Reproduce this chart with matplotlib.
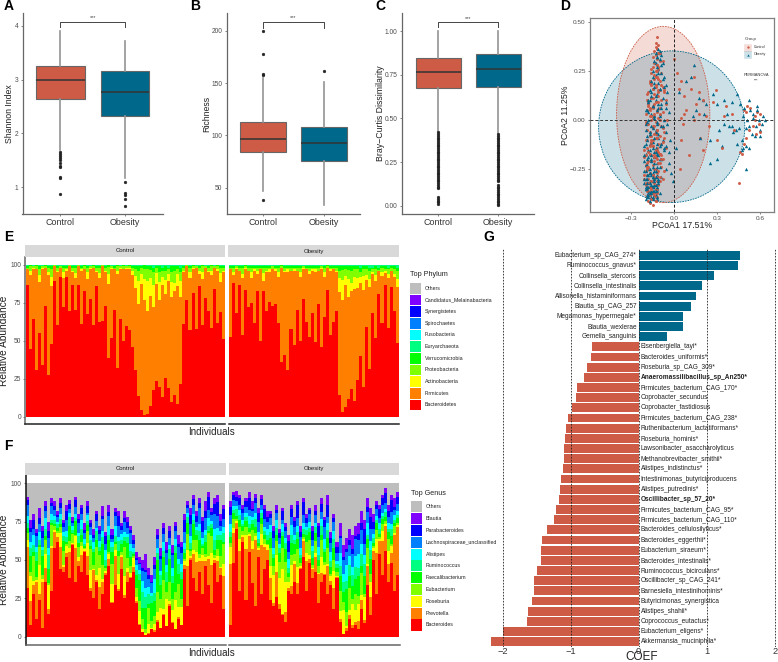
import numpy as np
import matplotlib
matplotlib.use("Agg")
import matplotlib.pyplot as plt
from matplotlib.patches import Ellipse, Rectangle

plt.rcParams['font.family'] = ['Liberation Sans', 'DejaVu Sans']
W, H = 778, 662
RED, BLUE = '#CD5B45', '#00688B'

# ---------- box panels ----------
groups = ['Control', 'Obesity']
shannon_stats = [
    dict(q1=2.63, med=2.99, q3=3.25, whislo=1.70, whishi=3.90,
         fliers=[1.66, 1.62, 1.58, 1.55, 1.50, 1.45, 1.40, 1.37, 1.20, 1.17, 0.87]),
    dict(q1=2.33, med=2.77, q3=3.15, whislo=1.17, whishi=3.72,
         fliers=[1.09, 0.90, 0.85, 0.78, 0.66])]
richness_stats = [
    dict(q1=84, med=97, q3=113, whislo=47, whishi=155, fliers=[200, 178, 158.5, 157.5, 38]),
    dict(q1=76, med=93, q3=108, whislo=33, whishi=151, fliers=[162])]
bray_stats = [
    dict(q1=0.677, med=0.768, q3=0.848, whislo=0.43, whishi=1.0,
         fliers=[.42, .41, .40, .39, .38, .37, .36, .35, .34, .33, .32, .31, .30, .29, .28, .27, .26, .25,
                 .24, .23, .22, .21, .20, .19, .18, .17, .16, .15, .14, .13, .12, .11, .10, .05, .04, .03, .02, .01]),
    dict(q1=0.682, med=0.783, q3=0.867, whislo=0.415, whishi=1.0,
         fliers=[.41, .40, .39, .38, .37, .36, .35, .34, .33, .32, .31, .30, .29, .28, .27, .26, .25, .24, .23,
                 .22, .21, .20, .19, .18, .17, .16, .15, .14, .12, .11, .10, .09, .08, .07, .06, .05, .04, .03, .02, .01, .005])]

# ---------- PCoA points ----------
ctrl_main_x = [-.12,-.13,-.11,-.12,-.14,-.11,-.13,-.12,-.1,-.14,-.12,-.15,-.11,-.13,-.09,-.16,-.12,-.14,-.1,-.17,-.13,-.08,-.15,-.11,-.18,-.07,-.14,-.12,-.16,-.09,-.19,-.13,-.06,-.15,-.1,-.17,-.12,-.08,-.2,-.14,-.11,-.16,-.05,-.13,-.18,-.09,-.15,-.12,-.19,-.07,-.14,-.17,-.1,-.13,-.2,-.08,-.16,-.11,-.15,-.19,-.06,-.13,-.18,-.1,-.17,-.14,-.21,-.08,-.12,-.16,-.19,-.11,-.15,-.09,-.18,-.13,-.2,-.07,-.17,-.12,-.15,-.19,-.1,-.14,-.21,-.08,-.16,-.12,-.18,-.14,-.2,-.11,-.17,-.15,-.19,-.13,-.16,-.18,-.12,-.15,-.17,-.14,-.19,-.13,-.16,-.15,-.18,-.13,-.17,-.15,-.12,-.14,-.11,-.16,-.13,-.18,-.1,-.15,-.13,-.17,-.09,-.14,-.19,-.12,-.16,-.1,-.2,-.15]
ctrl_main_y = [.42,.39,.38,.36,.35,.34,.33,.31,.3,.29,.28,.27,.27,.25,.24,.24,.22,.21,.2,.19,.18,.17,.16,.15,.14,.14,.13,.12,.11,.1,.1,.09,.08,.07,.06,.05,.05,.04,.03,.02,.01,.0,.0,-.01,-.02,-.03,-.04,-.05,-.05,-.06,-.07,-.08,-.08,-.09,-.1,-.11,-.11,-.12,-.13,-.14,-.14,-.15,-.16,-.17,-.17,-.18,-.19,-.2,-.2,-.21,-.22,-.22,-.23,-.24,-.24,-.25,-.26,-.26,-.27,-.27,-.28,-.28,-.29,-.29,-.3,-.3,-.31,-.31,-.32,-.32,-.33,-.33,-.34,-.34,-.35,-.35,-.36,-.36,-.37,-.37,-.38,-.38,-.39,-.39,-.4,-.4,-.41,-.41,-.42,-.43,-.35,-.3,.26,.18,.12,.08,.03,-.03,-.07,-.13,-.18,-.21,-.25,-.15,-.1,.15,-.02,.06]
ctrl_extra_x = [-.13,-.15,-.1,-.12,-.16,-.08,-.14,-.11,-.17,-.09,-.13,-.19,-.07,-.15,-.11,-.18,-.06,-.12,-.16,-.1,-.2,-.14,-.08,-.17,-.12,-.19,-.09,-.15,-.21,-.11,-.16,-.13,-.18,-.07,-.2,-.14,-.1,-.17,-.12,-.19,-.15,-.21,-.09,-.13,-.18,-.16,-.11,-.2,-.14,-.17,-.12,-.19,-.15,-.1,-.18,-.13,-.16,-.2,-.12,-.17,-.14,-.19,-.11,-.15,-.18,-.13,-.16,-.12,-.17,-.14,-.11,-.13,-.15,-.12,-.14,-.1,-.16,-.13,-.11,-.15]
ctrl_extra_y = [.37,.32,.34,.28,.26,.3,.23,.21,.2,.18,.17,.13,.15,.11,.09,.07,.1,.04,.02,.0,-.01,-.03,-.04,-.06,-.09,-.1,-.12,-.13,-.15,-.16,-.18,-.19,-.21,-.09,-.23,-.25,-.17,-.27,-.29,-.24,-.31,-.28,-.2,-.33,-.3,-.35,-.26,-.32,-.37,-.34,-.39,-.36,-.4,-.31,-.38,-.41,-.12,-.18,-.05,.02,.08,.05,.12,.16,.09,.22,.19,.25,.06,.03,-.02,-.06,-.1,-.14,-.19,-.22,-.08,-.16,.14,.01]
ctrl_right_x = [.0,.02,.03,.05,.05,.07,.08,.1,.12,.14,.15,.17,.2,.22,.24,.27,.29,.3,.33,.35,.36,.4,.42,.45,.47,.49,.5,.51,.52,.53,.55,.56,.56,.57,.58,.59,.6,.6,.46,.49,.5,.05,.06,.14,.17,.18,.2,.04,.07]
ctrl_right_y = [.31,.24,.16,.2,-.1,.12,.05,-.18,.16,.0,.08,.03,-.15,.02,-.03,.09,.15,-.1,-.14,.02,.07,.03,-.05,-.32,-.17,-.12,.04,.07,-.05,.06,-.03,.02,.0,-.07,.04,-.02,.03,-.06,-.16,.05,-.09,.01,-.02,.22,.14,-.09,.1,-.25,.03]
obes_main_x = [-.11,-.1,-.13,-.09,-.12,-.1,-.14,-.08,-.12,-.11,-.15,-.09,-.13,-.07,-.16,-.11,-.06,-.14,-.1,-.17,-.05,-.12,-.16,-.08,-.13,-.18,-.06,-.11,-.15,-.09,-.19,-.12,-.04,-.16,-.1,-.14,-.18,-.07,-.12,-.2,-.09,-.15,-.13,-.17,-.06,-.11,-.19,-.14,-.08,-.16,-.12,-.2,-.1,-.15,-.18,-.07,-.13,-.17,-.11,-.21,-.14,-.09,-.19,-.16,-.12,-.04,-.2,-.15,-.1,-.18,-.06,-.13,-.21,-.17,-.02,-.12,-.19,-.15,-.09,-.2,-.14,-.17,-.01,-.11,-.21,-.16,-.13,-.19,-.15,-.2,-.12,-.18,-.14,-.17,-.16,-.19,-.13,-.18,-.15,-.2,-.12,-.17,-.14,-.19,-.11,-.16,-.13,-.18,-.15,-.12,-.1,-.17,-.14,-.16,-.12,.01,-.03,-.06,-.18,-.2]
obes_main_y = [.36,.35,.34,.33,.32,.31,.3,.29,.27,.26,.25,.24,.23,.22,.2,.19,.18,.17,.16,.15,.14,.13,.12,.11,.1,.09,.09,.08,.07,.06,.05,.05,.04,.03,.02,.01,.0,.0,-.01,-.02,-.03,-.04,-.05,-.06,-.06,-.07,-.08,-.09,-.1,-.11,-.12,-.12,-.13,-.14,-.15,-.15,-.16,-.17,-.18,-.18,-.19,-.2,-.2,-.21,-.22,-.22,-.23,-.24,-.24,-.25,-.25,-.26,-.26,-.27,-.27,-.28,-.28,-.29,-.29,-.3,-.3,-.31,-.31,-.32,-.32,-.33,-.33,-.34,-.34,-.35,-.35,-.36,-.36,-.37,-.37,-.38,-.38,-.39,-.39,-.4,-.4,-.41,-.33,-.35,-.31,-.36,-.29,-.38,-.34,-.39,-.37,-.12,-.16,-.2,-.07,-.14,-.1,-.13,.1,.05]
obes_extra_x = [-.1,-.12,-.09,-.13,-.11,-.15,-.08,-.14,-.1,-.16,-.07,-.13,-.17,-.09,-.15,-.11,-.18,-.06,-.14,-.1,-.19,-.12,-.16,-.08,-.2,-.13,-.05,-.17,-.11,-.19,-.15,-.09,-.21,-.13,-.17,-.07,-.2,-.12,-.16,-.18,-.1,-.21,-.14,-.19,-.04,-.17,-.12,-.2,-.15,-.18,-.13,-.21,-.16,-.19,-.14,-.11,-.18,-.2,-.15,-.17,-.13,-.19,-.16,-.12,-.18,-.14,-.2,-.15,-.17,-.13,-.16,-.19,-.14,-.17,-.12,-.18,-.15,-.13,-.16,-.14]
obes_extra_y = [.34,.32,.28,.29,.24,.22,.21,.19,.16,.14,.17,.12,.1,.08,.07,.06,.04,.06,.02,.03,-.01,-.02,-.03,-.03,-.05,-.06,-.02,-.07,-.09,-.1,-.11,-.12,-.13,-.14,-.15,-.14,-.17,-.17,-.18,-.19,-.2,-.21,-.22,-.23,-.16,-.25,-.24,-.26,-.27,-.28,-.29,-.3,-.31,-.32,-.33,-.3,-.34,-.35,-.36,-.37,-.38,-.39,-.33,-.36,-.37,-.31,-.34,-.29,-.32,-.35,-.39,-.3,-.38,-.27,-.34,-.24,-.4,-.36,-.28,-.26]
obes_right_x = [.03,.08,.12,.14,.13,.15,.17,.2,.22,.25,.27,.3,.31,.33,.35,.37,.38,.4,.4,.41,.43,.44,.45,.46,.47,.48,.48,.49,.5,.5,.51,.52,.52,.53,.54,.55,.56,.57,.58,.59,.6,.61,.62,.63,.6,.58,.5,.47,.44,.52,.55,.35,.3,.18,.21,.25]
obes_right_y = [.14,.2,.22,.28,.02,.05,.11,.1,.08,-.1,.13,.08,-.05,-.13,.1,.03,-.03,-.03,.09,-.06,-.05,.13,-.04,.08,-.1,-.14,.02,.06,-.04,-.13,.0,.1,-.03,.05,-.07,.01,-.08,-.03,.07,.0,-.05,-.02,.02,.0,-.08,.05,-.25,-.15,-.12,-.14,.03,-.02,-.2,-.09,.03,-.22]

# ---------- phylum composition (E) ----------
phylum_names = ['Bacteroidetes', 'Firmicutes', 'Actinobacteria', 'Proteobacteria', 'Verrucomicrobia',
                'Euryarchaeota', 'Fusobacteria', 'Spirochaetes', 'Synergistetes',
                'Candidatus_Melainabacteria', 'Others']
rainbow = ['#FF0000', '#FF8000', '#FFFF00', '#80FF00', '#00FF00', '#00FF80', '#00FFFF',
           '#0080FF', '#0000FF', '#8000FF', '#BEBEBE']
e_ctrl_bact = [84,45,62,30,58,33,70,28,52,85,60,88,74,90,66,86,72,82,60,80,70,75,58,85,64,60,72,42,50,68,32,62,48,58,55,46,
               30,14,4,1,2,6,18,22,20,12,25,18,10,14,8,22, 60,72,58,78,55,85,62,74,68,58,80,60,72,50]
e_ctrl_firm = [10,49,32,64,36,61,24,66,42,9,34,6,20,4,28,8,22,12,34,14,24,19,36,9,30,34,22,52,44,26,62,32,46,36,39,48,
               52,62,70,74,68,64,56,60,58,70,54,66,72,68,76,58, 33,21,35,15,38,8,31,19,25,35,13,33,21,43]
e_ctrl_acti = [0,3,1,0,5,1,0,2,6,0,1,0,4,1,0,1,3,0,1,0,5,1,0,1,3,0,1,7,1,0,2,1,0,1,1,3,
               8,16,6,14,20,10,15,7,12,5,9,4,10,5,8,11, 1,0,4,1,0,2,5,0,1,3,0,1,6,1]
e_ctrl_prot = [1,3,1,2,4,1,1,3,6,1,2,1,3,1,1,2,4,1,1,2,3,1,1,2,4,1,2,5,1,1,3,1,2,1,1,2,
               4,7,3,6,8,5,9,3,7,4,6,3,7,8,3,6, 2,1,3,1,1,2,4,1,2,3,1,2,4,2]
e_ctrl_verr = [1,1,0,1,2,0,1,1,2,0,1,0,1,1,0,1,1,0,1,1,1,0,1,1,1,0,1,2,0,1,1,0,1,0,1,1,
               2,3,1,3,2,2,3,1,4,2,3,1,4,3,2,3, 1,0,1,1,0,1,1,0,1,1,0,1,1,1]
e_ctrl_eury = [1,0,1,0,1,1,0,1,1,0,1,1,1,1,0,1,1,0,1,0,1,1,0,1,1,0,1,0,1,1,0,1,0,1,0,1,
               1,1,1,0,1,1,2,1,1,2,1,2,1,1,1,2, 1,0,1,0,1,1,0,1,1,0,1,0,1,1]
e_obes_bact = [50,88,66,84,55,80,70,76,60,82,48,86,68, 74,70,72,62,34,40,30,56, 46,68,50,74,60,52,66,
               48,72,44,66,80,52,60,68, 14,3,6,12,18,10, 25,40,20,58,32, 66,52,75,60,82,58,80,68,50]
e_obes_firm = [43,5,28,9,38,13,23,17,33,11,45,7,25, 19,23,21,31,59,53,63,37, 47,25,43,19,33,41,27,
               45,21,49,27,14,41,33,25, 68,78,76,70,64,72, 62,48,66,30,56, 25,37,14,30,8,32,10,22,38]
e_obes_acti = [0,2,1,0,3,1,0,4,1,2,0,5,1, 2,0,1,3,0,1,2,0, 1,0,3,1,0,2,1, 2,0,1,3,0,1,0,1, 9,14,6,12,5,8, 7,4,9,3,5, 1,4,0,2,1,3,0,2,5]
e_obes_prot = [1,3,1,2,4,1,2,3,1,2,1,4,2, 1,2,1,3,1,2,1,2, 1,2,3,1,1,2,1, 1,2,1,3,1,1,1,2, 5,7,4,6,8,5, 6,3,5,4,6, 2,4,1,3,1,3,2,3,6]
e_obes_verr = [1,1,0,1,1,1,1,1,1,1,1,1,1, 1,0,1,1,1,1,1,1, 1,1,1,0,1,1,1, 1,1,0,1,1,1,1,1, 3,3,2,3,3,2, 2,3,2,2,2, 1,2,1,1,2,1,1,2,2]
e_obes_eury = [1,1,1,1,1,0,1,1,1,1,1,1,1, 1,1,1,1,0,1,1,1, 1,1,1,1,1,1,1, 1,1,1,1,0,1,1,1, 1,1,1,1,1,1, 1,2,1,1,2, 2,1,2,1,1,2,1,1,2]
e_ctrl = [e_ctrl_bact, e_ctrl_firm, e_ctrl_acti, e_ctrl_prot, e_ctrl_verr, e_ctrl_eury]
e_obes = [e_obes_bact, e_obes_firm, e_obes_acti, e_obes_prot, e_obes_verr, e_obes_eury]

# ---------- genus composition (F) ----------
genus_names = ['Bacteroides', 'Prevotella', 'Roseburia', 'Eubacterium', 'Faecalibacterium', 'Ruminococcus',
               'Alistipes', 'Lachnospiraceae_unclassified', 'Parabacteroides', 'Blautia', 'Others']
f_ctrl_bact = [32,8,28,12,24,6,36,15,30,58,62,44,42,52,38,60,36,46,42,55,40,30,25,36,18,28,40,46,22,34,30,44,25,36,38,42,
               22,8,3,1,2,5,3,10,6,14,7,20,9,5,12,8,44,20,50,38,30,42,28,46,34,22,48,36,40,18]
f_ctrl_prev = [24,12,4,22,3,30,6,2,28,8,2,14,3,2,12,1,22,3,9,1,14,2,20,1,16,6,1,3,1,14,1,9,2,6,1,4,
               2,1,0,0,1,0,1,1,0,1,0,2,1,0,1,0,2,24,1,12,18,5,22,2,10,26,1,9,4,16]
f_ctrl_rose = [4,12,2,1,14,2,6,10,1,1,2,9,1,3,2,1,8,2,5,1,9,12,1,3,14,2,1,2,12,3,8,1,10,3,2,7,
               3,12,2,1,6,1,3,6,14,3,16,2,9,18,6,12,2,9,1,2,6,1,4,2,1,8,1,2,1,6]
f_ctrl_eub = [4,2,12,2,9,3,6,1,14,2,1,4,8,1,3,10,1,6,2,1,9,14,3,16,10,7,2,1,14,3,9,2,15,6,4,2,
              8,10,5,2,12,6,4,14,6,18,4,15,8,5,14,6,1,10,3,5,8,2,5,1,9,12,1,3,6,10]
f_ctrl_faec = [3,8,2,10,1,12,2,6,1,1,1,2,6,1,7,1,9,2,4,1,4,2,9,4,3,11,1,5,8,1,3,6,3,10,5,1,
               12,20,6,9,3,16,8,22,10,14,6,18,12,24,6,14,3,6,1,8,3,6,1,5,1,5,2,4,9,1]
f_ctrl_rum = [3,4,3,5,2,4,3,6,2,2,2,3,3,2,4,3,2,4,3,2,3,4,2,5,3,4,3,2,4,3,5,3,2,4,3,2,
              4,6,8,5,7,6,4,5,7,4,6,8,5,4,6,5,2,4,3,2,3,4,2,3,2,3,4,2,3,4]
f_ctrl_ali = [4,3,5,3,4,2,5,3,4,2,1,3,2,3,2,4,3,2,5,3,4,3,5,2,4,3,5,4,3,5,2,4,3,2,4,3,
              5,3,6,4,5,3,7,4,3,5,4,3,6,4,3,5,3,2,4,3,2,3,4,2,3,2,4,3,2,3]
f_ctrl_lach = [6,5,3,7,4,6,3,4,5,3,2,4,3,5,2,3,4,6,3,4,2,5,3,4,5,6,3,4,2,5,6,3,5,4,6,3,
               4,6,5,7,6,8,5,6,8,5,7,6,9,5,7,8,5,3,6,4,3,7,4,5,3,4,6,5,3,4]
f_ctrl_para = [3,2,4,2,3,5,2,3,2,2,1,3,2,4,2,3,5,2,3,2,5,3,2,4,3,2,4,2,3,2,5,3,2,4,2,3,
               2,1,2,1,3,1,2,3,2,4,2,5,2,3,2,4,6,2,5,3,4,2,7,3,5,2,4,6,3,5]
f_ctrl_blau = [2,4,3,2,5,3,2,4,3,2,2,3,2,3,2,4,2,3,2,5,3,2,4,2,3,5,2,3,4,2,3,2,4,3,2,4,
               5,6,4,7,5,6,4,4,6,3,5,4,6,3,5,4,3,2,4,2,3,2,3,4,2,3,2,3,4,2]
f_ctrl_other = [9,24,20,30,16,28,12,25,10,12,18,10,24,14,11,22,9,20,14,26,12,24,30,18,28,15,32,14,30,16,18,26,18,22,28,34,
                45,48,50,46,55,60,48,30,42,26,38,28,40,25,34,38,20,12,16,8,18,10,22,12,6,16,10,8,20,14]
f_obes_bact = [8,48,70,30,62,24,55,35,20,52,28,44,50,24,20,26,18,14,10,30,28,36,28,44,52,30,48,38,
               42,22,36,40,28,34,18,38,10,2,4,12,6,8,5,18,9,34,14,50,28,54,40,56,36,48,30,40]
f_obes_prev = [32,20,4,28,3,36,8,24,34,4,30,14,6,14,2,18,4,1,8,2,4,14,6,1,10,22,3,6,
               10,18,5,1,14,2,10,1,1,0,1,2,1,1,3,4,1,8,6,5,26,8,22,14,10,4,34,28]
f_obes_rose = [9,3,1,8,2,10,1,6,2,1,7,2,3,8,18,12,20,30,24,4,10,2,8,1,1,6,3,1,
               3,1,9,5,1,3,8,1,3,12,1,3,8,5,6,2,8,1,5,2,9,1,6,1,8,3,1,1]
f_obes_eub = [2,6,1,9,3,6,1,8,2,1,6,3,1,12,6,10,12,14,16,3,5,6,10,2,1,8,12,2,
              8,4,10,2,8,1,5,3,8,4,5,12,2,6,3,9,1,7,3,1,6,1,5,2,7,1,4,1]
f_obes_faec = [3,4,2,5,3,4,2,4,3,2,4,3,2,6,5,4,7,8,10,3,6,8,5,3,2,5,6,4,
               5,4,3,6,5,4,6,3,6,5,9,7,5,6,7,3,6,4,5,2,4,2,3,2,4,3,2,3]
f_obes_rum = [3,2,4,3,2,3,2,3,4,2,3,2,3,4,3,5,4,3,5,3,4,3,4,2,3,4,3,5,
              4,3,5,2,4,3,4,3,4,5,3,6,4,5,3,5,4,2,3,3,2,3,2,3,2,3,2,2]
f_obes_ali = [4,3,2,4,3,3,4,2,3,4,2,3,4,5,4,6,3,5,4,6,5,4,3,5,4,2,5,3,
              3,5,4,6,3,5,4,3,5,4,6,5,3,4,5,4,3,5,3,2,3,4,2,2,3,2,3,2]
f_obes_lach = [5,4,3,3,5,4,3,4,5,6,3,5,4,4,6,5,4,3,6,5,4,6,4,7,5,3,6,4,
               5,6,4,7,3,5,4,6,6,7,5,6,5,7,5,6,4,5,4,3,4,3,5,3,4,5,3,4]
f_obes_para = [4,3,2,5,3,4,6,2,3,5,4,6,3,3,5,2,4,6,3,7,4,5,7,3,8,4,3,6,
               3,7,5,4,6,3,2,5,1,2,1,3,2,1,2,3,5,2,4,4,3,5,4,6,3,5,2,4]
f_obes_blau = [3,2,4,2,3,2,3,5,2,3,2,3,4,2,3,4,3,2,3,4,2,3,2,4,2,3,2,3,
               4,2,3,2,5,3,2,4,5,6,4,6,5,4,4,5,3,4,3,5,2,3,2,3,4,2,5,3]
f_obes_other = [12,6,5,8,14,10,6,12,7,16,8,14,18,18,28,14,30,16,26,34,14,22,12,28,10,20,16,28,
                14,26,10,22,8,32,20,38,26,40,36,30,34,28,26,18,24,10,16,20,12,14,8,3,14,8,10,6]
f_ctrl_mid = [f_ctrl_prev, f_ctrl_rose, f_ctrl_eub, f_ctrl_faec, f_ctrl_rum, f_ctrl_ali, f_ctrl_lach, f_ctrl_para, f_ctrl_blau]
f_obes_mid = [f_obes_prev, f_obes_rose, f_obes_eub, f_obes_faec, f_obes_rum, f_obes_ali, f_obes_lach, f_obes_para, f_obes_blau]

# ---------- coefficient bars (G) ----------
species = ['Eubacterium_sp_CAG_274*', 'Ruminococcus_gnavus*', 'Collinsella_stercoris', 'Collinsella_intestinalis',
           'Allisonella_histaminiformans', 'Blautia_sp_CAG_257', 'Megamonas_hypermegale*', 'Blautia_wexlerae',
           'Gemella_sanguinis', 'Eisenbergiella_tayi*', 'Bacteroides_uniformis*', 'Roseburia_sp_CAG_309*',
           'Anaeromassilibacillus_sp_An250*', 'Firmicutes_bacterium_CAG_170*', 'Coprobacter_secundus',
           'Coprobacter_fastidiosus', 'Firmicutes_bacterium_CAG_238*', 'Ruthenibacterium_lactatiformans*',
           'Roseburia_hominis*', 'Lawsonibacter_asaccharolyticus', 'Methanobrevibacter_smithii*',
           'Alistipes_indistinctus*', 'Intestinimonas_butyriciproducens', 'Alistipes_putredinis*',
           'Oscillibacter_sp_57_20*', 'Firmicutes_bacterium_CAG_95*', 'Firmicutes_bacterium_CAG_110*',
           'Bacteroides_cellulosilyticus*', 'Bacteroides_eggerthii*', 'Eubacterium_siraeum*',
           'Bacteroides_intestinalis*', 'Ruminococcus_bicirculans*', 'Oscillibacter_sp_CAG_241*',
           'Barnesiella_intestinihominis*', 'Butyricimonas_synergistica', 'Alistipes_shahii*',
           'Coprococcus_eutactus*', 'Eubacterium_eligens*', 'Akkermansia_muciniphila*']
coefs = [1.485, 1.456, 1.10, 0.926, 0.848, 0.765, 0.657, 0.647, 0.42,
         -0.69, -0.706, -0.755, -0.81, -0.907, -0.92, -0.98, -1.044, -1.064, -1.083, -1.093, -1.098, -1.108,
         -1.142, -1.157, -1.167, -1.216, -1.25, -1.348, -1.42, -1.43, -1.436, -1.49, -1.534, -1.54, -1.574,
         -1.627, -1.647, -1.995, -2.176]
bold_species = ['Anaeromassilibacillus_sp_An250*', 'Oscillibacter_sp_57_20*']

# ---------- figure ----------
fig = plt.figure(figsize=(W / 100, H / 100), dpi=100, facecolor='white')

def px_axes(l, t, r, b, **kw):
    return fig.add_axes([l / W, 1 - b / H, (r - l) / W, (b - t) / H], **kw)

overlay = fig.add_axes([0, 0, 1, 1], zorder=20)
overlay.set_xlim(0, W); overlay.set_ylim(H, 0); overlay.axis('off'); overlay.patch.set_alpha(0)
TC = '#4d4d4d'

def boxpanel(l, r, c1, unit, ylim, yticks, ylabels, stats, ylabel, br_y, br_drop, ylab_x):
    ax = px_axes(l, 13, r, 214)
    ax.set_xlim(1 - (c1 - l) / unit, 1 + (r - c1) / unit)
    ax.set_ylim(*ylim)
    for s, color, pos in zip(stats, [RED, BLUE], [1, 2]):
        ax.bxp([s], positions=[pos], widths=0.75, patch_artist=True, showcaps=False,
               boxprops=dict(facecolor=color, edgecolor='#666666', linewidth=0.8),
               medianprops=dict(color='#333333', linewidth=1.1),
               whiskerprops=dict(color='#949494', linewidth=1.2),
               flierprops=dict(marker='o', markersize=2.0, markerfacecolor='#222222',
                               markeredgecolor='#222222', markeredgewidth=0.3))
    ax.plot([1, 1, 2, 2], [br_y - br_drop, br_y, br_y, br_y - br_drop], color='#444444', lw=0.7)
    ax.text(1.5, br_y + br_drop * 0.75, '***', ha='center', va='center', fontsize=4, color='#444444')
    ax.set_xticks([1, 2]); ax.set_xticklabels(groups, fontsize=6.4, color='#333333')
    ax.set_yticks(yticks); ax.set_yticklabels(ylabels, fontsize=4.8, color=TC)
    ax.tick_params(axis='both', length=1.5, width=0.5, pad=1.5, color='#555555')
    for s in ('top', 'right'):
        ax.spines[s].set_visible(False)
    for s in ('left', 'bottom'):
        ax.spines[s].set_color('#666666'); ax.spines[s].set_linewidth(0.9)
    overlay.text(ylab_x, 113.5, ylabel, rotation=90, ha='center', va='center', fontsize=6.3, color='#222222')

boxpanel(22.5, 163, 60.5, 64.5, (0.504, 4.236), [1, 2, 3, 4], ['1', '2', '3', '4'], shannon_stats, 'Shannon Index', 4.07, 0.10, 10)
boxpanel(226.5, 360, 263, 61, (24.8, 217.2), [50, 100, 150, 200], ['50', '100', '150', '200'], richness_stats, 'Richness', 208.6, 5.5, 207)
boxpanel(401.5, 534, 438, 60, (-0.046, 1.103), [0, .25, .5, .75, 1], ['0.00', '0.25', '0.50', '0.75', '1.00'], bray_stats, 'Bray\u2212Curtis Dissimilarity', 1.051, 0.03, 381)

# PCoA
axd = px_axes(590, 18, 774, 212)
axd.set_xlim(-0.588, 0.696); axd.set_ylim(-0.467, 0.518)
axd.add_patch(Ellipse((-0.077, 0.028), 0.651, 0.895, facecolor=RED, alpha=0.22, lw=0))
axd.add_patch(Ellipse((-0.018, -0.034), 1.02, 0.77, facecolor=BLUE, alpha=0.2, lw=0))
axd.add_patch(Ellipse((-0.018, -0.034), 1.02, 0.77, fill=False, edgecolor=BLUE, ls=(0, (2, 1.2)), lw=0.6))
axd.add_patch(Ellipse((-0.077, 0.028), 0.651, 0.895, fill=False, edgecolor=RED, ls=(0, (2, 1.2)), lw=0.6))
axd.axhline(0, color='#333333', ls=(0, (3, 2)), lw=0.7, zorder=5)
axd.axvline(0, color='#222222', ls=(0, (3, 2)), lw=0.7, zorder=5)
def pts(*pairs):
    xs, ys = [], []
    for a, b in pairs:
        n = min(len(a), len(b))
        xs += a[:n]; ys += b[:n]
    return np.array(xs), np.array(ys)
cx, cy = pts((ctrl_main_x, ctrl_main_y), (ctrl_extra_x, ctrl_extra_y), (ctrl_right_x, ctrl_right_y))
ox, oy = pts((obes_main_x, obes_main_y), (obes_extra_x, obes_extra_y), (obes_right_x, obes_right_y))
for k in range(3):
    axd.scatter(cx[k::3], cy[k::3], s=4.5, marker='o', color=RED, lw=0, zorder=4)
    axd.scatter(ox[k::3], oy[k::3], s=6, marker='^', color=BLUE, lw=0, zorder=4)
axd.set_xticks([-.3, 0, .3, .6]); axd.set_xticklabels(['\u22120.3', '0.0', '0.3', '0.6'], fontsize=4.6, color=TC)
axd.set_yticks([-.25, 0, .25, .5]); axd.set_yticklabels(['\u22120.25', '0.00', '0.25', '0.50'], fontsize=4.6, color=TC)
axd.tick_params(length=1.5, width=0.5, pad=1.5, color='#555555')
for s in axd.spines.values():
    s.set_color('#808080'); s.set_linewidth(0.9)
overlay.text(681.7, 226, 'PCoA1 17.51%', ha='center', va='center', fontsize=6.3, color='#222222')
overlay.text(565.5, 115, 'PCoA2 11.25%', rotation=90, ha='center', va='center', fontsize=6.3, color='#222222')
overlay.text(744.5, 39, 'Group', fontsize=3.2, va='center', color='#333333')
for y, c, m, lab in [(47, RED, 'o', 'Control'), (54.5, BLUE, '^', 'Obesity')]:
    overlay.add_patch(Rectangle((744.5, y - 3.5), 7, 7, facecolor=c, alpha=0.2, edgecolor=c, lw=0.4, ls=(0, (2, 1))))
    overlay.plot([748], [y], marker=m, ms=1.7, color=c, mew=0)
    overlay.text(754, y, lab, fontsize=2.6, va='center', color='#333333')
overlay.text(756, 75.5, 'PERMANOVA', fontsize=2.9, ha='center', va='center', color='#333333')
overlay.text(756, 81, '***', fontsize=2.9, ha='center', va='center', color='#333333')

# Stacked panels
def stack_panel(ax, layers, colors, left_labels, bottom_col, left_col):
    arr = np.array(layers, dtype=float)
    x = np.arange(arr.shape[1])
    bottom = np.zeros(arr.shape[1])
    for vals, col in zip(arr, colors):
        ax.bar(x, vals, bottom=bottom, width=1.0, color=col, linewidth=0)
        bottom = bottom + vals
    ax.set_xlim(-0.6, arr.shape[1] - 0.4)
    ax.set_xticks([])
    for s in ('top', 'right'):
        ax.spines[s].set_visible(False)
    ax.spines['bottom'].set_color(bottom_col); ax.spines['bottom'].set_linewidth(1.1)
    if left_labels:
        ax.spines['left'].set_color(left_col); ax.spines['left'].set_linewidth(1.1)
        ax.set_yticks([0, 25, 50, 75, 100])
        ax.set_yticklabels(['0', '25', '50', '75', '100'], fontsize=4.8, color=TC)
        ax.tick_params(axis='y', length=1.5, width=0.5, pad=1.2, color='#555555')
    else:
        ax.spines['left'].set_visible(False)
        ax.set_yticks([])

def strip(l, r, t, b, label):
    overlay.add_patch(Rectangle((l, t), r - l, b - t, facecolor='#D9D9D9', edgecolor='none'))
    overlay.text((l + r) / 2, (t + b) / 2, label, ha='center', va='center', fontsize=4.3, color='#1a1a1a')

def closed(layers):
    arr = np.array(layers, dtype=float)
    return arr / arr.sum(axis=0) * 100

# E
e_cols = rainbow[:6]
axe1 = px_axes(25.3, 257, 225, 424); axe1.set_ylim(-4.8, 105)
stack_panel(axe1, closed(e_ctrl), e_cols, True, '#222222', '#666666')
axe2 = px_axes(228.5, 257, 399, 424); axe2.set_ylim(-4.8, 105)
stack_panel(axe2, closed(e_obes), e_cols, False, '#222222', '#666666')
strip(25.3, 225, 245, 257, 'Control'); strip(228.5, 399, 245, 257, 'Obesity')
overlay.text(211.7, 431.7, 'Individuals', ha='center', va='center', fontsize=7.1, color='#222222')
overlay.text(4.5, 340.7, 'Relative Abundance', rotation=90, ha='center', va='center', fontsize=7.3, color='#222222')

# F
def genus_layers(bact, mids, other):
    b, o, m = np.array(bact, float), np.array(other, float), np.array(mids, float)
    m = m / m.sum(axis=0) * (100 - b - o)
    return np.vstack([b, m, o])

f_cols = rainbow
axf1 = px_axes(25.5, 475, 225.7, 645); axf1.set_ylim(-5.2, 105.2)
stack_panel(axf1, genus_layers(f_ctrl_bact, f_ctrl_mid, f_ctrl_other), f_cols, True, '#666666', '#111111')
axf2 = px_axes(229, 475, 399.5, 645); axf2.set_ylim(-5.2, 105.2)
stack_panel(axf2, genus_layers(f_obes_bact, f_obes_mid, f_obes_other), f_cols, False, '#666666', '#111111')
strip(25.5, 225.7, 462.7, 475, 'Control'); strip(229, 399.5, 462.7, 475, 'Obesity')
overlay.text(212, 652.7, 'Individuals', ha='center', va='center', fontsize=7.1, color='#222222')
overlay.text(4.5, 560, 'Relative Abundance', rotation=90, ha='center', va='center', fontsize=7.3, color='#222222')

def legend(title, tx, ty, names, colors, kx, y0, dy, lx):
    overlay.text(tx, ty, title, fontsize=5.2, va='center', color='#222222')
    n = len(names)
    for i in range(n):
        name, col = names[n - 1 - i], colors[n - 1 - i]
        y = y0 + i * dy
        overlay.add_patch(Rectangle((kx, y - dy / 2 + 0.4), 11, dy - 0.8, facecolor=col, edgecolor='none'))
        overlay.text(lx, y, name, fontsize=3.8, va='center', color='#222222')

legend('Top Phylum', 410, 275, phylum_names, rainbow, 410, 288.3, 11.67, 425)
legend('Top Genus', 411, 493.3, genus_names, rainbow, 411, 506.7, 11.83, 426)

# G
axg = px_axes(480, 249, 778, 647, zorder=5)
axg.patch.set_alpha(0)
axg.set_xlim((480 - 638.7) / 68, (778 - 638.7) / 68)
ypos = np.arange(len(species))
axg.set_ylim(len(species) - 1 + (647 - 641.7) / 10.16, -(255.3 - 249) / 10.16)
axg.barh(ypos, coefs, height=0.88, color=[BLUE if c > 0 else RED for c in coefs], linewidth=0, zorder=1)
for v in [-2, -1, 0, 1, 2]:
    axg.axvline(v, color='#222222', ls=(0, (2, 1.6)), lw=0.6, zorder=2)
for yy, name, c in zip(ypos, species, coefs):
    axg.text(-0.03 if c > 0 else 0.03, yy, name, ha='right' if c > 0 else 'left', va='center',
             fontsize=4.7, color='#222222', zorder=3,
             fontweight='bold' if name in bold_species else 'normal')
axg.set_xticks([-2, -1, 0, 1, 2]); axg.set_xticklabels(['\u22122', '\u22121', '0', '1', '2'], fontsize=6.7, color='#333333')
axg.tick_params(axis='x', length=0, pad=0)
axg.set_yticks([])
for s in axg.spines.values():
    s.set_visible(False)
overlay.text(642, 657, 'COEF', ha='center', va='center', fontsize=8.5, color='#222222')

for lab, x, y in [('A', 4, 6), ('B', 190, 6), ('C', 375, 6), ('D', 560, 6), ('E', 4, 237), ('F', 4, 445.7), ('G', 483, 237)]:
    overlay.text(x, y, lab, fontsize=10, fontweight='bold', va='center', ha='left', color='black')

fig.savefig('out.png', dpi=100)
